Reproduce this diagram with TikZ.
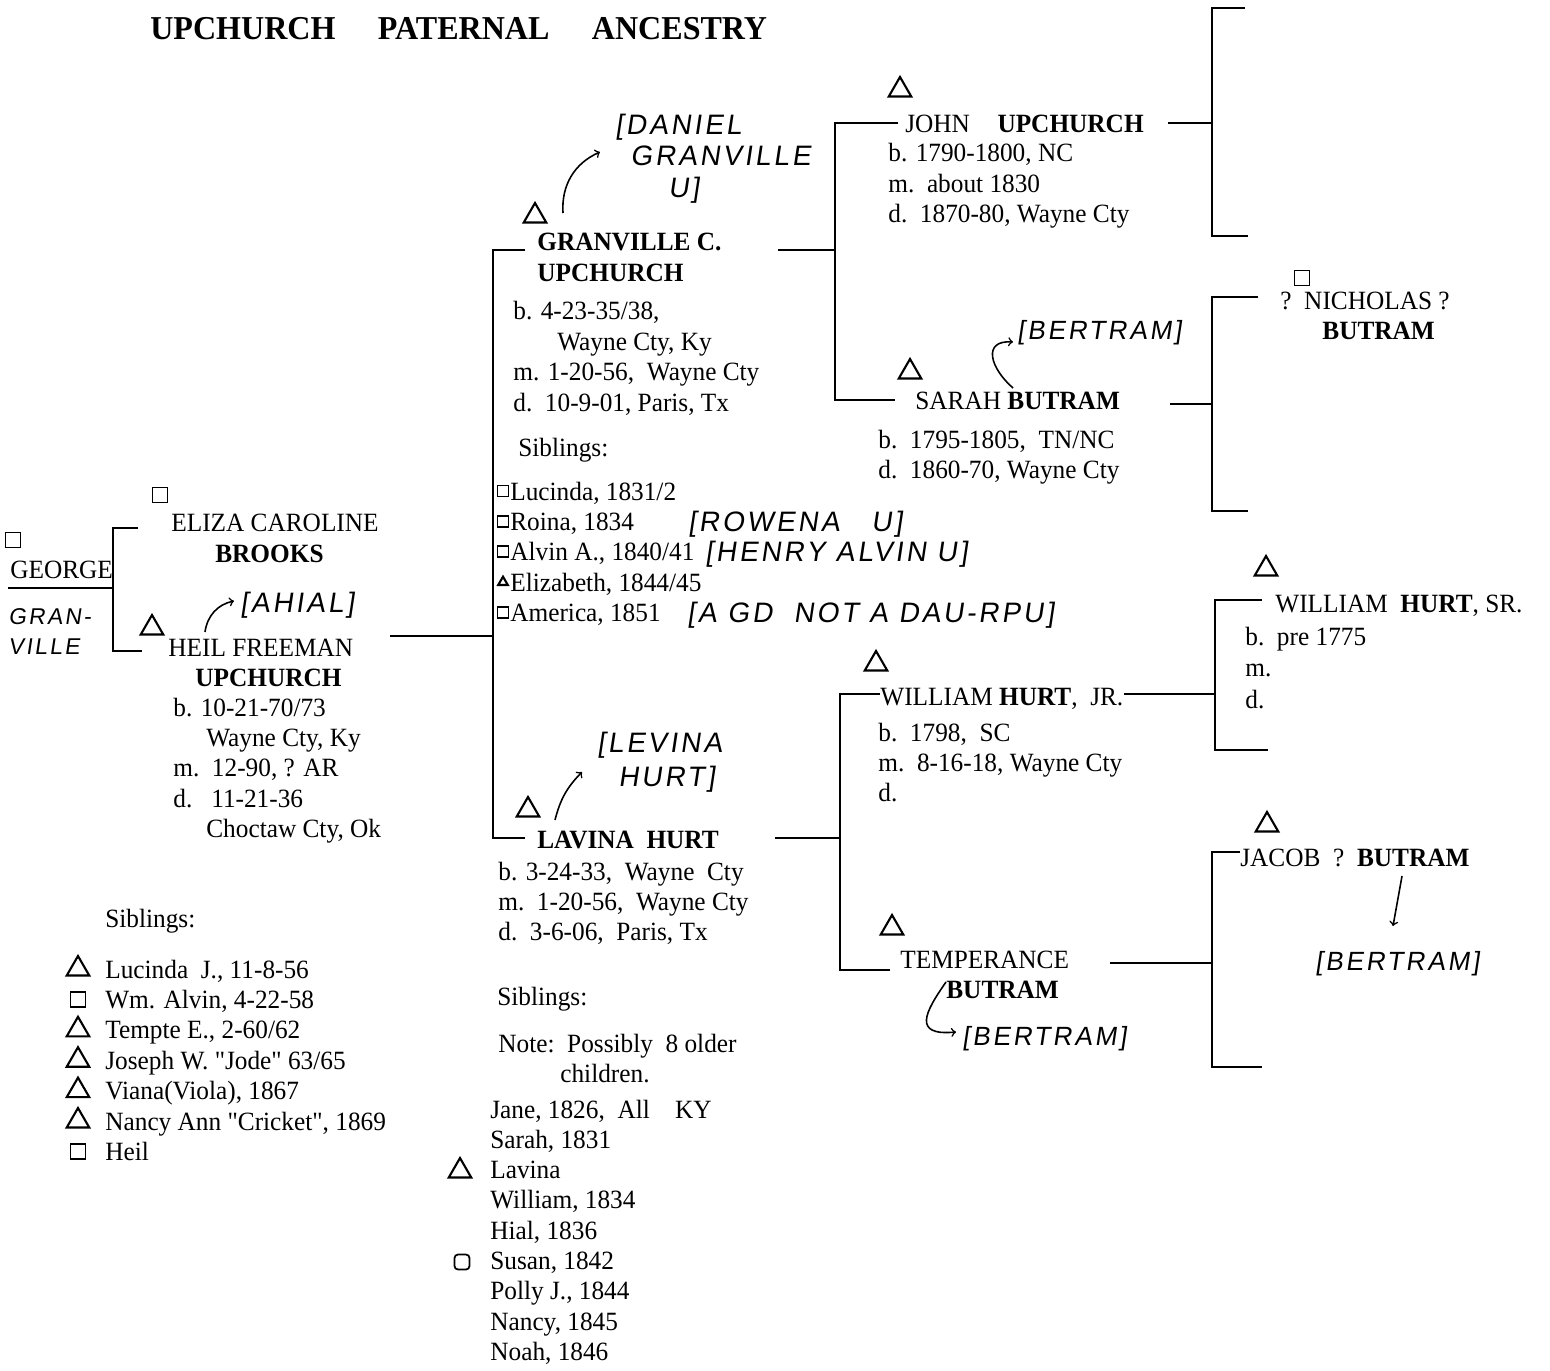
\documentclass[tikz,border=0pt]{standalone}
\usepackage{fontspec}
\setmainfont{Liberation Serif}[FakeStretch=0.96,Ligatures=TeXOff]
\newfontfamily\handfont{Liberation Sans}[FakeSlant=0.15,LetterSpace=10]
\newcommand{\straightquote}{\char34\relax}
\usetikzlibrary{shapes.geometric}
\usetikzlibrary{positioning}

\tikzset{
  txt/.style={anchor=base west, inner sep=0pt, font=\fontsize{15}{17}\selectfont},
  hand/.style={anchor=base west, inner sep=0pt, font=\handfont\fontsize{#1}{#1}\selectfont},
  hand/.default=16,
  heading/.style={anchor=base west, inner sep=0pt, font=\bfseries\fontsize{19}{22}\selectfont},
  bracket/.style={line width=1.6pt},
  remark/.style={line width=0.9pt, ->},
  tri/.style={draw, regular polygon, regular polygon sides=3, minimum size=#1, inner sep=0pt, line width=1.2pt},
  tri/.default=0.52cm,
  sq/.style={draw, rectangle, minimum size=#1, inner sep=0pt, line width=1pt},
  sq/.default=0.3cm,
}

\begin{document}
\begin{tikzpicture}[x=0.02cm, y=-0.02cm]
\useasboundingbox (0,0) rectangle (1550,1371);

% title
\node[heading] (title) at (150,40) {UPCHURCH\hspace{0.85cm}PATERNAL\hspace{0.85cm}ANCESTRY};

% george
\node[sq] (georgesq) at (13,540) {};
\node[txt] (george) at (10,578) {GEORGE};
\node[hand=13] (gran) at (8,624) {GRAN-};
\node[hand=13] (ville) at (8,654) {VILLE};
\coordinate (gtop) at (113,528);
\coordinate (gbot) at (113,651);
\coordinate (gmid) at (113,588);
\coordinate (gleft) at (8,588);
\coordinate (elizal) at (138,528);
\coordinate (heill) at (142,651);
\draw[bracket] (elizal) -- (gtop) -- (gbot) -- (heill);
\draw[bracket] (gleft) -- (gmid);

% eliza
\node[sq] (elizasq) at (160,495) {};
\node[txt] (eliza) at (171,531) {ELIZA CAROLINE};
\node[txt] (brooks) at (215,562) {\bfseries BROOKS};

% heil
\node[tri] (heiltri) at (152,628) {};
\node[txt] (heil) at (168,656) {HEIL FREEMAN};
\node[txt] (heilup) at (195,686) {\bfseries UPCHURCH};
\foreach \lab/\x [count=\i from 0] in {{b. 10-21-70/73}/173, {Wayne Cty, Ky}/206, {m.\ \ 12-90, ? AR}/173, {d.\ \ \ 11-21-36}/173, {Choctaw Cty, Ok}/206}
  \node[txt] (heil\i) at (\x,{716+30.4*\i}) {\lab};
\coordinate (ahialfrom) at (205,632);
\coordinate (ahialto) at (234,601);
\path[remark] (ahialfrom) edge[bend left=35] (ahialto);
\node[hand] (ahial) at (240,612) {[AHIAL]};

% heil siblings
\node[txt] (hsib) at (105,927) {Siblings:};
\foreach \lab/\s [count=\i from 0] in {{Lucinda\ \ J., 11-8-56}/tri, {Wm. Alvin, 4-22-58}/sq, {Tempte E., 2-60/62}/tri, {Joseph W. \straightquote Jode\straightquote\ 63/65}/tri, {Viana(Viola), 1867}/tri, {Nancy Ann \straightquote Cricket\straightquote, 1869}/tri, {Heil}/sq}
{
  \node[txt] (hs\i) at (105,{978+30.4*\i}) {\lab};
  \node[\s] (hsi\i) at (78,{969+30.4*\i}) {};
}

% center bracket
\coordinate (heilr) at (390,636);
\coordinate (cmid) at (493,636);
\coordinate (ctop) at (493,250);
\coordinate (cbot) at (493,838);
\coordinate (granl) at (525,250);
\coordinate (lavl) at (525,838);
\draw[bracket] (heilr) -- (cmid);
\draw[bracket] (granl) -- (ctop) -- (cbot) -- (lavl);

% granville
\node[tri] (grantri) at (535,216) {};
\node[txt] (granv) at (537,251) {\bfseries GRANVILLE C.};
\node[txt] (granup) at (537,282) {\bfseries UPCHURCH};
\foreach \lab/\x [count=\i from 0] in {{b. 4-23-35/38,}/513, {Wayne Cty, Ky}/557, {m. 1-20-56,\ \ Wayne Cty}/513, {d.\ \ 10-9-01, Paris, Tx}/513}
  \node[txt] (granv\i) at (\x,{320+30.4*\i}) {\lab};
\coordinate (danfrom) at (563,213);
\coordinate (danto) at (600,152);
\path[remark] (danfrom) edge[bend left=35] (danto);
\node[hand] (dan1) at (615,135) {[DANIEL};
\node[hand] (dan2) at (630,166) {GRANVILLE};
\node[hand] (dan3) at (668,198) {U]};

% granville siblings
\node[txt] (gsib) at (518,456) {Siblings:};
\foreach \lab/\s [count=\i from 0] in {{Lucinda, 1831/2}/sq, {Roina, 1834}/sq, {Alvin A., 1840/41}/sq, {Elizabeth, 1844/45}/tri, {America, 1851}/sq}
{
  \node[txt] (gs\i) at (510,{500+30.4*\i}) {\lab};
  \node[\s=0.22cm] (gsi\i) at (503,{491+30.4*\i}) {};
}
\node[hand] (rowena) at (688,531) {[ROWENA\ \ \ U]};
\node[hand] (henry) at (705,561) {[HENRY ALVIN U]};
\node[hand] (gdnot) at (687,622) {[A GD\ \ NOT A DAU-RPU]};

% john and sarah bracket
\coordinate (granr) at (778,250);
\coordinate (jsmid) at (835,250);
\coordinate (jstop) at (835,123);
\coordinate (jsbot) at (835,400);
\coordinate (johnl) at (898,123);
\coordinate (sarahl) at (895,400);
\draw[bracket] (granr) -- (jsmid);
\draw[bracket] (johnl) -- (jstop) -- (jsbot) -- (sarahl);

% john
\node[tri] (johntri) at (900,90) {};
\node[txt] (john) at (905,133) {JOHN\hspace{0.55cm}\bfseries UPCHURCH};
\foreach \lab [count=\i from 0] in {{b. 1790-1800, NC}, {m.\ \ about 1830}, {d.\ \ 1870-80, Wayne Cty}}
  \node[txt] (john\i) at (888,{162+30.4*\i}) {\lab};
\coordinate (johnr) at (1168,123);
\coordinate (jpmid) at (1212,123);
\coordinate (jptop) at (1212,8);
\coordinate (jpbot) at (1212,236);
\coordinate (jptopr) at (1245,8);
\coordinate (jpbotr) at (1248,236);
\draw[bracket] (johnr) -- (jpmid);
\draw[bracket] (jptopr) -- (jptop) -- (jpbot) -- (jpbotr);

% sarah
\node[tri] (sarahtri) at (910,372) {};
\node[txt] (sarah) at (915,409) {SARAH \bfseries BUTRAM};
\foreach \lab [count=\i from 0] in {{b.\ \ 1795-1805,\ \ TN/NC}, {d.\ \ 1860-70, Wayne Cty}}
  \node[txt] (sarah\i) at (878,{448+30.4*\i}) {\lab};
\coordinate (bertfrom) at (1013,388);
\coordinate (bertto) at (1013,342);
\draw[remark] (bertfrom) .. controls (990,368) and (982,340) .. (bertto);
\node[hand=15] (bert1) at (1017,340) {[BERTRAM]};
\coordinate (sarahr) at (1170,404);
\coordinate (spmid) at (1212,404);
\coordinate (sptop) at (1212,297);
\coordinate (spbot) at (1212,511);
\coordinate (sptopr) at (1258,297);
\coordinate (spbotr) at (1248,511);
\draw[bracket] (sarahr) -- (spmid);
\draw[bracket] (sptopr) -- (sptop) -- (spbot) -- (spbotr);

% nicholas
\node[sq] (nichsq) at (1302,278) {};
\node[txt] (nich) at (1280,310) {?\ \ NICHOLAS ?};
\node[txt] (nichb) at (1322,340) {\bfseries BUTRAM};

% lavina
\node[tri] (lavtri) at (528,810) {};
\node[txt] (lav) at (537,848) {\bfseries LAVINA\ \ HURT};
\foreach \lab [count=\i from 0] in {{b. 3-24-33,\ \ Wayne\ \ Cty}, {m.\ \ 1-20-56,\ \ Wayne Cty}, {d.\ \ 3-6-06,\ \ Paris, Tx}}
  \node[txt] (lav\i) at (498,{880+30.4*\i}) {\lab};
\coordinate (levfrom) at (555,820);
\coordinate (levto) at (582,772);
\path[remark] (levfrom) edge[bend left=15] (levto);
\node[hand] (lev1) at (597,752) {[LEVINA};
\node[hand] (lev2) at (618,786) {HURT]};

% lavina siblings
\node[txt] (lsib) at (497,1005) {Siblings:};
\node[txt] (lnote) at (498,1052) {Note:\ \ Possibly\ \ 8 older};
\node[txt] (lnote2) at (560,1082) {children.};
\foreach \lab [count=\i from 0] in {{Jane, 1826,\ \ All\ \ \ \ KY}, {Sarah, 1831}, {Lavina}, {William, 1834}, {Hial, 1836}, {Susan, 1842}, {Polly J., 1844}, {Nancy, 1845}, {Noah, 1846}}
  \node[txt] (ls\i) at (490,{1118+30.3*\i}) {\lab};
\node[tri] (lstri) at (460,1171) {};
\node[sq, rounded corners=2pt] (lssq) at (462,1262) {};

% william jr and temperance bracket
\coordinate (lavr) at (775,838);
\coordinate (wtmid) at (840,838);
\coordinate (wttop) at (840,694);
\coordinate (wtbot) at (840,970);
\coordinate (wjrl) at (880,694);
\coordinate (templ) at (890,970);
\draw[bracket] (lavr) -- (wtmid);
\draw[bracket] (wjrl) -- (wttop) -- (wtbot) -- (templ);

% william hurt jr
\node[tri] (wjrtri) at (876,664) {};
\node[txt] (wjr) at (880,705) {WILLIAM {\bfseries HURT},\ \ JR.};
\foreach \lab [count=\i from 0] in {{b.\ \ 1798,\ \ SC}, {m.\ \ 8-16-18, Wayne Cty}, {d.}}
  \node[txt] (wjr\i) at (878,{741+30.4*\i}) {\lab};
\coordinate (wpmid) at (1215,694);
\coordinate (wptop) at (1215,600);
\coordinate (wpbot) at (1215,750);
\coordinate (wptopr) at (1262,600);
\coordinate (wpbotr) at (1268,750);
\draw[bracket] (wjr.east |- wpmid) -- (wpmid);
\draw[bracket] (wptopr) -- (wptop) -- (wpbot) -- (wpbotr);

% william hurt sr
\node[tri] (wsrtri) at (1266,569) {};
\node[txt] (wsr) at (1275,612) {WILLIAM\ \ {\bfseries HURT}, SR.};
\foreach \lab [count=\i from 0] in {{b.\ \ pre 1775}, {m.}, {d.}}
  \node[txt] (wsr\i) at (1245,{645+31.5*\i}) {\lab};

% temperance
\node[tri] (temptri) at (892,928) {};
\node[txt] (temp) at (900,968) {TEMPERANCE};
\node[txt] (tempb) at (946,998) {\bfseries BUTRAM};
\coordinate (tbertfrom) at (946,982);
\coordinate (tbertto) at (956,1032);
\draw[remark] (tbertfrom) .. controls (925,1012) and (912,1036) .. (tbertto);
\node[hand=15] (bert2) at (962,1045) {[BERTRAM]};
\coordinate (tempr) at (1110,963);
\coordinate (tpmid) at (1212,963);
\coordinate (tptop) at (1212,852);
\coordinate (tpbot) at (1212,1067);
\coordinate (tptopr) at (1240,852);
\coordinate (tpbotr) at (1262,1067);
\draw[bracket] (tempr) -- (tpmid);
\draw[bracket] (tptopr) -- (tptop) -- (tpbot) -- (tpbotr);

% jacob
\node[tri] (jacobtri) at (1267,825) {};
\node[txt] (jacob) at (1240,866) {JACOB\ \ ?\ \ \bfseries BUTRAM};
\coordinate (jbertfrom) at (1402,876);
\coordinate (jbertto) at (1393,926);
\draw[remark] (jbertfrom) -- (jbertto);
\node[hand=15] (bert3) at (1315,970) {[BERTRAM]};

\end{tikzpicture}
\end{document}
